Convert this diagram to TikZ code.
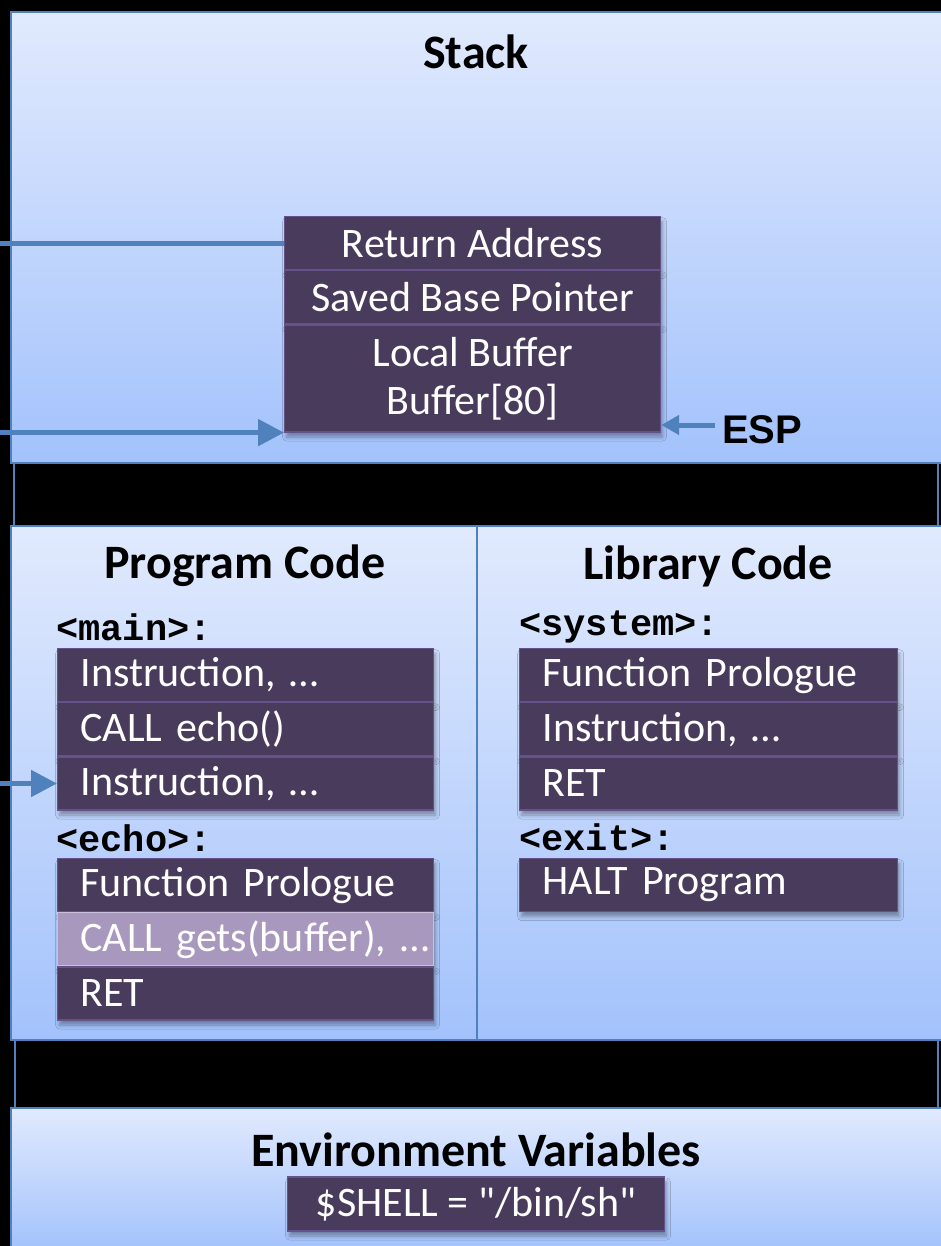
\documentclass[tikz,border=0pt]{standalone}
\usepackage{fontspec}
\setmainfont{Carlito}
\newfontfamily\plaincarlito{Carlito}[Ligatures=TeXOff]
\newfontfamily\monob{Liberation Mono}
\newfontfamily\arialf{Liberation Sans}
\usetikzlibrary{arrows.meta,shadows.blur}
\definecolor{ptop}{HTML}{E1EAFD}
\definecolor{pbot}{HTML}{A3C2FC}
\definecolor{edge}{HTML}{4F81BD}
\definecolor{purp}{HTML}{483B5C}
\definecolor{purpedge}{HTML}{66528A}
\definecolor{lpurp}{HTML}{A898BE}
\definecolor{lpurpedge}{HTML}{CBC0DC}
\tikzset{
  rowbase/.style={draw=purpedge, line width=1.2pt, fill=purp, text=white,
    font=\fontsize{42}{48}\selectfont, inner ysep=0pt, minimum height=53pt,
    blur shadow={shadow xshift=2pt, shadow yshift=-5pt, shadow blur radius=4pt, shadow opacity=35}},
  coderow/.style={rowbase, anchor=north west, text width=330pt, inner xsep=23pt, align=left},
  stackrow/.style={rowbase, anchor=north west, minimum width=376pt, inner xsep=0pt, align=center},
  hirow/.style={fill=lpurp, draw=lpurpedge},
  title/.style={font=\fontsize{48}{56}\selectfont\bfseries, text=black},
  lbl/.style={font=\monob\bfseries\fontsize{37}{40}\selectfont, anchor=west, inner sep=0pt},
  panelbox/.style={draw=edge, line width=1.6pt, top color=ptop, bottom color=pbot},
  gapbox/.style={draw=edge, line width=1.2pt, fill=black},
  ptr/.style={draw=edge, line width=5pt, -{Triangle[length=26pt,width=26pt]}},
  smallptr/.style={draw=edge, line width=5pt, -{Triangle[length=18pt,width=19pt]}},
  plainline/.style={draw=edge, line width=5pt}
}
\begin{document}
\begin{tikzpicture}[x=1pt,y=-1pt]
\useasboundingbox (0,0) rectangle (941,1246);
\fill[black] (0,0) rectangle (941,1246);
\path[panelbox] (11,12) rectangle (946,463);
\path[gapbox] (14,463) rectangle (938,526);
\path[panelbox] (11,526) rectangle (477,1040);
\path[panelbox] (477,526) rectangle (946,1040);
\path[gapbox] (15,1040) rectangle (938,1108);
\path[panelbox] (11,1108) rectangle (946,1250);

% titles
\node[title] (tstack) at (476,52) {Stack};
\node[title] (tprog) at (245,566) {Program Code};
\node[title] (tlib) at (708,566) {Library Code};
\node[title] (tenv) at (476,1150) {Environment Variables};

% stack frame
\node[stackrow] (ret) at (284,216) {Return Address};
\node[stackrow] (sbp) at (ret.south west) {Saved Base Pointer};
\node[stackrow, minimum height=107pt] (lb) at (sbp.south west) {Local Buffer\\Buffer[80]};

% program code
\node[lbl] (lmain) at (56,627) {<main>:};
\node[coderow] (m1) at (57,648) {Instruction, …};
\node[coderow] (m2) at (m1.south west) {CALL echo()};
\node[coderow] (m3) at (m2.south west) {Instruction, …};

\node[lbl] (lecho) at (56,838) {<echo>:};
\node[coderow] (e1) at (57,858) {Function Prologue};
\node[coderow, hirow] (e2) at (e1.south west) {\mbox{CALL gets(buffer), …}};
\node[coderow] (e3) at (e2.south west) {RET};

% library code
\node[lbl] (lsys) at (519,627) {<system>:};
\node[coderow, text width=332pt] (s1) at (519,648) {Function Prologue};
\node[coderow, text width=332pt] (s2) at (s1.south west) {Instruction, …};
\node[coderow, text width=332pt] (s3) at (s2.south west) {RET};

\node[lbl] (lexit) at (519,837) {<exit>:};
\node[coderow, text width=332pt] (x1) at (519,858) {HALT Program};

% environment
\node[rowbase, minimum width=377pt, inner xsep=0pt, minimum height=54pt] (shell) at (476,1204) {\plaincarlito \$SHELL = "/bin/sh"};

% pointers
\node[font=\arialf\bfseries\fontsize{40}{44}\selectfont, anchor=west, inner sep=0pt] (esp) at (722,430) {ESP};
\coordinate (espt) at ([xshift=-7pt,yshift=5pt]esp.west);
\draw[smallptr] (espt) -- (espt -| lb.east);

\coordinate (ra) at (ret.west -| 0,0);
\draw[plainline] (ra) -- (ret.west);
\coordinate (bl) at (lb.south west -| 0,0);
\draw[ptr] (bl) -- (lb.south west);
\coordinate (ip) at (m3.west -| 0,0);
\draw[ptr] (ip) -- (m3.west);
\end{tikzpicture}
\end{document}
